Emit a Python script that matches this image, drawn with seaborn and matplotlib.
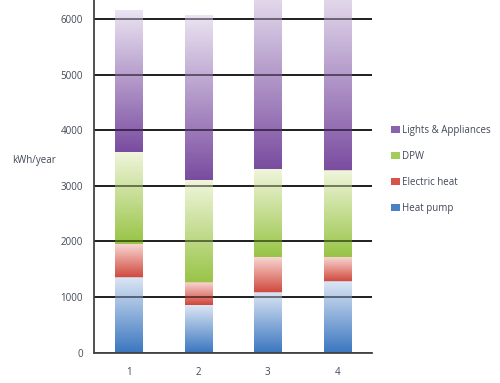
import matplotlib
matplotlib.use("Agg")
from matplotlib import pyplot as plt
from matplotlib.patches import Patch
import matplotlib.colors as mcolors
import seaborn as sns
import pandas as pd
import numpy as np

bars = ["1", "2", "3", "4"]
heat_pump = [1350, 850, 1080, 1280]
electric_heat = [600, 400, 640, 440]
dpw = [1650, 1850, 1580, 1550]
lights = [2550, 2950, 3300, 3350]

series = ["Heat pump", "Electric heat", "DPW", "Lights & Appliances"]
values = [heat_pump, electric_heat, dpw, lights]
# (bottom colour, top colour) of each gradient segment
grads = [("#3a76c0", "#dce6f4"), ("#d0463a", "#f8d6d2"),
         ("#98c446", "#f0f6dc"), ("#7a4ca0", "#ebe4f2")]
legend_cols = ["#4a80c4", "#d9534a", "#a4cc5a", "#8a62ae"]

sns.set_style("white")
plt.rcParams["font.family"] = ["Open Sans", "DejaVu Sans"]
txt = "#404858"

fig = plt.figure(figsize=(5, 3.83), dpi=100)
ax = fig.add_axes([0.188, 0.079, 0.556, 0.921])

cum = np.cumsum(np.array(values), axis=0)
bottoms = np.vstack([np.zeros(len(bars)), cum[:-1]])

# stacked bars: draw cumulative totals from the top layer down
for i in range(len(series) - 1, -1, -1):
    df = pd.DataFrame({"bar": bars, "total": cum[i]})
    sns.barplot(data=df, x="bar", y="total", color=grads[i][0], width=0.39,
                ax=ax, zorder=2)

alpha = 0.82
def comp(c):
    c = np.array(mcolors.to_rgb(c))
    return np.clip((c - (1 - alpha)) / alpha, 0, 1)

# overlay the vertical gradients on each segment
n_layers = len(series)
for k, p in enumerate(ax.patches):
    layer = n_layers - 1 - k // len(bars)
    j = k % len(bars)
    lo, hi = comp(grads[layer][0]), comp(grads[layer][1])
    t = np.linspace(0, 1, 128)[:, None]
    img = (lo[None, :] * (1 - t) + hi[None, :] * t)[:, None, :]
    x0 = p.get_x()
    ax.imshow(img, extent=(x0, x0 + p.get_width(), bottoms[layer][j], cum[layer][j]),
              origin="lower", aspect="auto", zorder=3, alpha=alpha,
              interpolation="bilinear")
    p.set_visible(False)

ax.set_xlim(-0.5, 3.5)
ax.set_ylim(0, 6340)
ax.set_yticks(range(0, 7000, 1000))
ax.set_xticks(range(4))
ax.set_xticklabels(bars)
ax.set_xticks([-0.5, 0.5, 1.5, 2.5, 3.5], minor=True)
ax.tick_params(axis="x", which="major", length=0, pad=10, labelsize=7, labelcolor=txt)
ax.tick_params(axis="x", which="minor", length=3, width=1, color="#444444", direction="out")
ax.tick_params(axis="y", length=0, pad=8, labelsize=7, labelcolor=txt)
ax.yaxis.grid(True, color="black", lw=1.1)
ax.set_axisbelow(True)
# faint copy of the grid over the bars
for yv in range(1000, 7000, 1000):
    ax.axhline(yv, color="black", lw=1.1, alpha=0.5, zorder=4)
ax.set_xlabel("")
ax.set_ylabel("")
for s in ["top", "right"]:
    ax.spines[s].set_visible(False)
for s in ["left", "bottom"]:
    ax.spines[s].set_color("#444444")
    ax.spines[s].set_linewidth(1.3)
    ax.spines[s].set_zorder(5)

fig.text(0.024, 1 - 160 / 383, "kWh/year", fontsize=7, color=txt, va="center")

handles = [Patch(facecolor=legend_cols[i], edgecolor="none", label=series[i])
           for i in range(len(series) - 1, -1, -1)]
fig.legend(handles=handles, loc="upper left", bbox_to_anchor=(0.772, 1 - 120 / 383),
           frameon=False, fontsize=7, handlelength=0.9, handleheight=0.7,
           handletextpad=0.2, labelspacing=1.55, borderpad=0, labelcolor=txt)

fig.savefig("out.png", dpi=100)
